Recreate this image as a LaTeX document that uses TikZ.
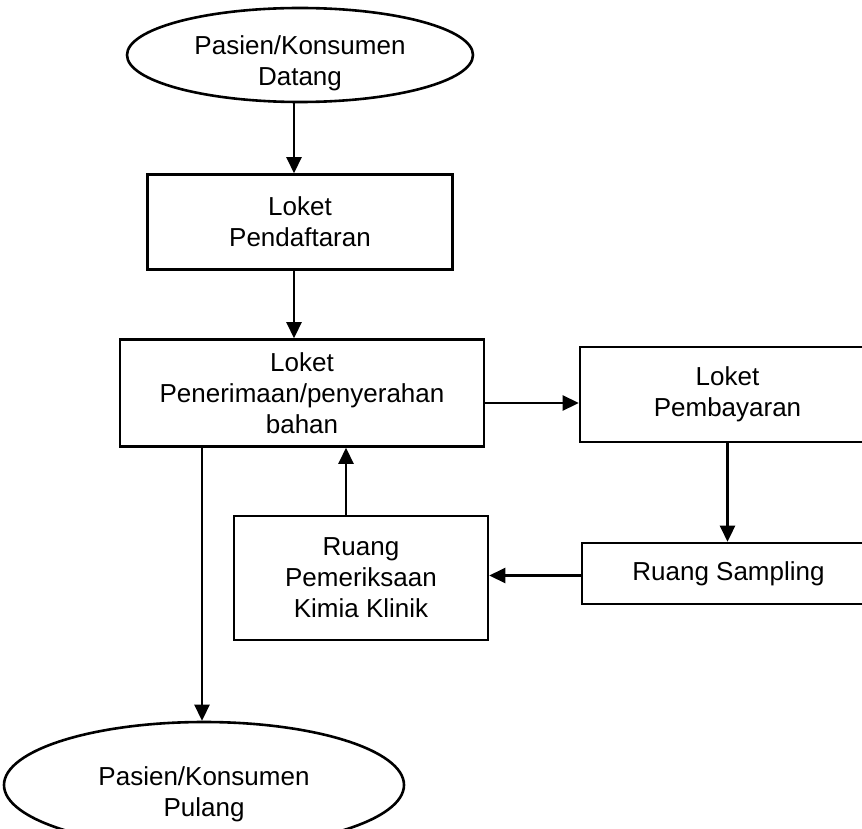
\documentclass[tikz,border=0pt]{standalone}
\usepackage{fontspec}
\setmainfont{Liberation Sans}
\usetikzlibrary{arrows.meta,shapes.geometric}
\begin{document}
\begin{tikzpicture}[x=1pt,y=-1pt,
  every node/.style={font=\fontsize{26}{31}\selectfont, align=center, inner sep=0pt},
  box/.style={draw, line width=2.6pt, rectangle},
  term/.style={draw, line width=2.6pt, ellipse},
  arr/.style={line width=2.6pt, -{Triangle[length=16pt,width=15pt]}}]
\useasboundingbox (0,0) rectangle (862,829);
\clip (0,0) rectangle (862,829);

\node[term, minimum width=346pt, minimum height=94pt] (start) at (300,55) {};
\node (starttext) at (300,63) {Pasien/Konsumen\\Datang};
\node[box, minimum width=305pt, minimum height=95pt] (pend) at (300,222) {Loket\\Pendaftaran};
\node[box, minimum width=364pt, minimum height=107pt] (terima) at (302,393) {Loket\\Penerimaan/penyerahan\\bahan};
\node[box, minimum width=295pt, minimum height=95pt] (bayar) at (727.5,394.5) {Loket\\Pembayaran};
\node[box, minimum width=293pt, minimum height=61pt] (sampling) at (728.5,573.5) {Ruang Sampling};
\node[box, minimum width=254pt, minimum height=124pt] (kimia) at (361,578) {Ruang\\Pemeriksaan\\Kimia Klinik};
\node[term, minimum width=400pt, minimum height=126pt] (end) at (204,785) {};
\node (endtext) at (204,794) {Pasien/Konsumen\\Pulang};

\draw[arr] ([xshift=-6pt]start.south) -- ([xshift=-6pt]start.south |- pend.north);
\draw[arr] ([xshift=-6pt]pend.south) -- ([xshift=-6pt]pend.south |- terima.north);
\draw[arr] ([yshift=-10pt]terima.east) -- ([yshift=-10pt]terima.east -| bayar.west);
\draw[arr] (bayar.south) -- (bayar.south |- sampling.north);
\draw[arr] ([yshift=-2pt]sampling.west) -- ([yshift=-2pt]sampling.west -| kimia.east);
\draw[arr] ([xshift=-15pt]kimia.north) -- ([xshift=-15pt]kimia.north |- terima.south);
\draw[arr] ([xshift=-100pt]terima.south) -- ([xshift=-100pt]terima.south |- end.north);
\end{tikzpicture}
\end{document}
